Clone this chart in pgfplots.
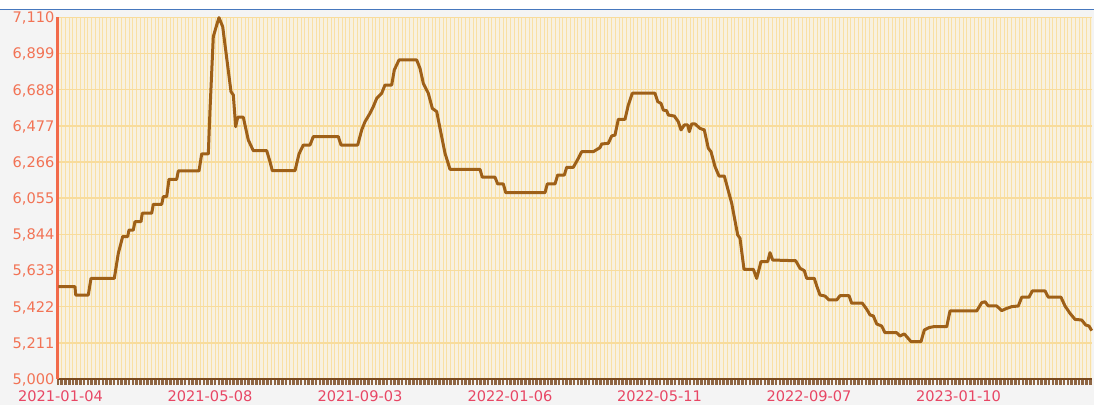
\documentclass[border=0pt]{standalone}
\usepackage{fontspec}
\setmainfont{DejaVu Sans}
\usepackage{pgfplots}
\pgfplotsset{compat=1.18}
\definecolor{bggray}{RGB}{244,244,244}
\definecolor{plotbg}{RGB}{248,241,224}
\definecolor{vgrid}{RGB}{249,224,164}
\definecolor{hgrid}{RGB}{248,220,156}
\definecolor{linebrown}{RGB}{158,96,24}
\definecolor{axisbrown}{RGB}{122,74,32}
\definecolor{yaxiscol}{RGB}{242,106,74}
\definecolor{ylab}{RGB}{242,115,85}
\definecolor{xlab}{RGB}{232,70,100}
\definecolor{topblue}{RGB}{70,120,190}
\begin{document}
\begin{tikzpicture}
\useasboundingbox (0,0) rectangle (1094pt,405pt);
\fill[bggray] (0,0) rectangle (1094pt,396pt);
\fill[white] (0,396pt) rectangle (1094pt,405pt);
\draw[topblue, line width=1.4pt] (0,395.5pt) -- (1094pt,395.5pt);
\begin{axis}[
  at={(58pt,26pt)}, anchor=south west,
  scale only axis, width=1034pt, height=361.7pt,
  xmin=58, xmax=1092, ymin=5000, ymax=7110,
  clip=false,
  axis background/.style={fill=plotbg},
  axis x line*=bottom, axis y line*=left,
  x axis line style={axisbrown, line width=2.2pt, -},
  y axis line style={yaxiscol, line width=3pt, -},
  xtick={60.5,210,360,510,659.5,809,958.5},
  xticklabels={2021-01-04,2021-05-08,2021-09-03,2022-01-06,2022-05-11,2022-09-07,2023-01-10},
  minor xtick={58,61.74,...,1092},
  ytick={5000,5211,5422,5633,5844,6055,6266,6477,6688,6899,7110},
  yticklabels={{5,000},{5,211},{5,422},{5,633},{5,844},{6,055},{6,266},{6,477},{6,688},{6,899},{7,110}},
  major tick length=0pt, minor tick length=6pt, tick align=outside,
  minor tick style={axisbrown!85, line width=2.6pt},
  ymajorgrids, xminorgrids,
  major grid style={hgrid, line width=1.5pt},
  minor grid style={vgrid, line width=1pt},
  xticklabel style={font=\fontsize{14.6}{17}\selectfont, text=xlab, yshift=-8pt},
  yticklabel style={font=\fontsize{14.6}{17}\selectfont, text=ylab, text depth=0pt},
]
\addplot[linebrown, line width=3pt, line join=round, mark=none] coordinates {
(58.3,5539)(75,5539)(75.7,5490)(88.3,5490)(91,5587)(114.3,5587)(118.3,5733)(122.7,5831)
(127.7,5831)(129,5869)(133.3,5869)(135,5918)(141,5918)(142.3,5967)(151.7,5967)(153.3,6019)
(161.7,6019)(163.3,6064)(166.7,6064)(169,6165)(176.7,6165)(178.3,6214)(199,6214)(201.7,6313)
(208.3,6313)(210,6569)(213.3,6997)(216.7,7065)(219,7108)(222.7,7055)(231,6676)(233.3,6657)
(235.7,6472)(237.7,6527)(243.3,6527)(248.3,6394)(253.3,6332)(266.7,6332)(270,6268)(272.3,6215)
(295,6215)(299,6313)(303.3,6365)(310,6365)(313.3,6414)(338.3,6414)(341,6365)(357.7,6365)
(361.7,6453)(365,6501)(370,6550)(373.3,6589)(376.7,6637)(381.7,6667)(385,6715)(391.7,6715)
(394.3,6803)(399,6861)(416.7,6861)(420,6812)(423.3,6725)(428.3,6667)(432.3,6579)(436.7,6560)
(440,6462)(445,6317)(450,6223)(480,6223)(482.3,6177)(495,6177)(497.7,6138)(503.3,6138)
(505.7,6087)(545,6087)(547.3,6138)(555,6138)(557.7,6190)(564.3,6190)(566.7,6235)(573.3,6235)
(578.3,6287)(581.7,6326)(593.3,6326)(600,6350)(601.7,6371)(608.3,6375)(611.7,6418)(615,6423)
(618.3,6515)(625,6515)(628.3,6598)(632.3,6667)(655,6667)(657.7,6618)(661,6608)(663.3,6569)
(666.7,6565)(668.3,6540)(674.3,6534)(678.3,6501)(681,6453)(684.3,6482)(687.7,6482)(689.3,6443)
(691.7,6488)(695,6488)(700,6462)(704.3,6453)(708.3,6346)(711,6326)(715,6239)(719,6184)
(724.3,6184)(731.7,6025)(737.7,5840)(740,5821)(744,5640)(753.3,5640)(756.7,5587)(761,5685)
(767.7,5685)(770,5737)(772.7,5694)(795.7,5690)(800,5646)(804.3,5632)(806.7,5587)(814.3,5587)
(816.7,5543)(820,5490)(825,5484)(829,5461)(836.7,5461)(840,5486)(849,5486)(851.7,5442)
(862.3,5442)(866.7,5407)(870,5374)(873.3,5368)(876.7,5321)(881.7,5309)(885,5270)(896.7,5270)
(900,5251)(904.3,5263)(911,5218)(921,5218)(924.3,5286)(929,5300)(933.3,5305)(946.7,5305)
(950,5397)(976.7,5397)(981.7,5445)(985,5451)(988.3,5426)(996.7,5426)(1001.7,5399)(1006.7,5412)
(1011.7,5422)(1018.3,5426)(1021.7,5477)(1029,5477)(1032.3,5514)(1045,5514)(1048.3,5477)(1061,5477)
(1065,5426)(1070,5383)(1075,5348)(1081.7,5344)(1085.7,5315)(1089,5309)(1091.7,5282)
};
\end{axis}
\end{tikzpicture}
\end{document}
